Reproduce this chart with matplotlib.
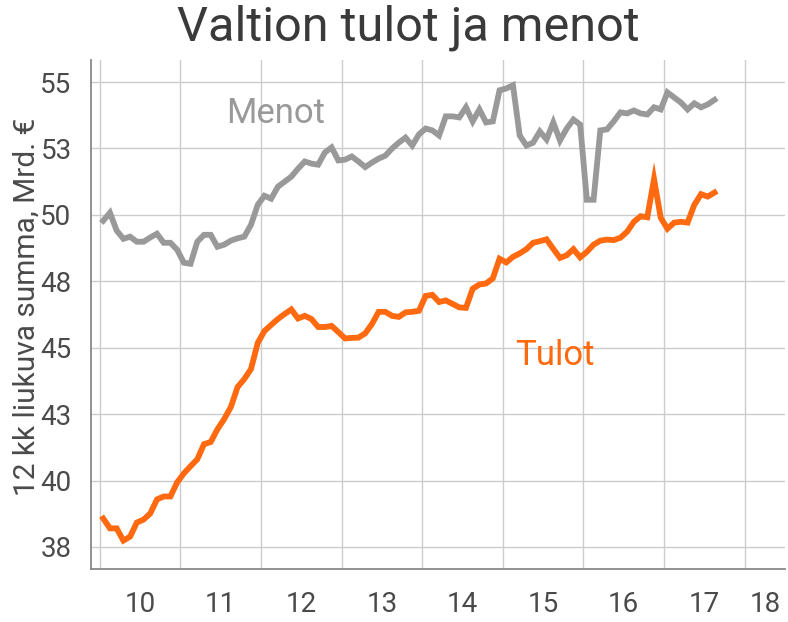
import numpy as np
import matplotlib
matplotlib.use("Agg")
import matplotlib.pyplot as plt
from matplotlib.ticker import FixedLocator, FuncFormatter, NullFormatter

plt.rcParams['font.family'] = ['Roboto', 'DejaVu Sans']

# kuukausittainen data, tammikuu 2010 - elokuu 2017 (12 kk liukuva summa, Mrd. €)
start_year = 2010
menot = [49.78, 50.08, 49.41, 49.10, 49.18, 48.99, 48.99, 49.15, 49.29, 48.95,
         48.95, 48.69, 48.20, 48.16, 48.99, 49.25, 49.25, 48.80, 48.88, 49.03,
         49.12, 49.18, 49.63, 50.38, 50.72, 50.61, 51.06, 51.25, 51.44, 51.74,
         52.01, 51.93, 51.89, 52.35, 52.54, 52.05, 52.08, 52.20, 52.01, 51.80,
         51.97, 52.12, 52.23, 52.50, 52.72, 52.91, 52.61, 53.03, 53.25, 53.18,
         52.99, 53.71, 53.71, 53.67, 54.05, 53.52, 53.97, 53.48, 53.52, 54.69,
         54.76, 54.88, 52.99, 52.61, 52.72, 53.14, 52.84, 53.48, 52.80, 53.25,
         53.59, 53.40, 50.57, 50.57, 53.18, 53.22, 53.52, 53.86, 53.82, 53.93,
         53.82, 53.78, 54.05, 53.97, 54.61, 54.42, 54.23, 53.97, 54.20, 54.05,
         54.16, 54.33]
tulot = [38.57, 38.20, 38.20, 37.74, 37.89, 38.42, 38.53, 38.76, 39.29, 39.40,
         39.40, 39.93, 40.27, 40.54, 40.80, 41.37, 41.45, 41.93, 42.31, 42.77,
         43.52, 43.82, 44.20, 45.18, 45.63, 45.86, 46.08, 46.27, 46.44, 46.10,
         46.20, 46.08, 45.78, 45.78, 45.82, 45.59, 45.35, 45.37, 45.38, 45.54,
         45.89, 46.35, 46.35, 46.20, 46.16, 46.33, 46.35, 46.39, 46.95, 46.99,
         46.72, 46.78, 46.65, 46.52, 46.50, 47.22, 47.38, 47.42, 47.61, 48.35,
         48.21, 48.42, 48.55, 48.71, 48.95, 49.01, 49.08, 48.72, 48.38, 48.48,
         48.71, 48.40, 48.61, 48.88, 49.03, 49.07, 49.05, 49.14, 49.37, 49.74,
         49.95, 49.91, 51.35, 49.89, 49.48, 49.71, 49.74, 49.71, 50.38, 50.78,
         50.69, 50.84]
years = list(range(2010, 2019))
year_labels = ['10', '11', '12', '13', '14', '15', '16', '17', '18']
y_ticks = [37.5, 40, 42.5, 45, 47.5, 50, 52.5, 55]

x = start_year + (np.arange(len(menot)) + 0.5) / 12.0

text_col = '#4a4a4a'
grey = '#999999'
orange = '#ff6a10'

fig = plt.figure(figsize=(7.88, 6.22), dpi=100)
ax = fig.add_axes([0.1155, 0.0852, 0.8807, 0.8183])

ax.plot(x, menot, color=grey, linewidth=4.2, solid_joinstyle='miter', zorder=3)
ax.plot(x, tulot, color=orange, linewidth=4.2, solid_joinstyle='miter', zorder=3)

xmin, xmax = 2009.89, 2018.5
ax.set_xlim(xmin, xmax)
ax.set_ylim(36.67, 55.83)

# vuosirajat gridiksi, vuosiluvut keskelle
ax.xaxis.set_major_locator(FixedLocator(years))
ax.xaxis.set_major_formatter(NullFormatter())
centers = [(max(y, xmin) + min(y + 1, xmax)) / 2 for y in years]
ax.set_xticks(centers, year_labels, minor=True)
ax.tick_params(axis='x', which='both', length=0, pad=16, labelsize=20, labelcolor=text_col)

ax.set_yticks(y_ticks)
ax.yaxis.set_major_formatter(FuncFormatter(lambda v, p: str(int(v + 0.5))))
ax.tick_params(axis='y', length=0, pad=14, labelsize=20, labelcolor=text_col)

ax.grid(True, which='major', color='#cccccc', linewidth=1.0)
ax.set_axisbelow(True)

for s in ['top', 'right']:
    ax.spines[s].set_visible(False)
for s in ['left', 'bottom']:
    ax.spines[s].set_color('#888888')
    ax.spines[s].set_linewidth(1.3)

ax.set_ylabel('12 kk liukuva summa, Mrd. €', fontsize=21.5, color=text_col)
ax.yaxis.set_label_coords(-0.072, 0.515)

ax.text(2012.18, 53.8, 'Menot', fontsize=25, color=grey, ha='center', va='center')
ax.text(2015.65, 44.7, 'Tulot', fontsize=25, color=orange, ha='center', va='center')

fig.text(0.518, 0.955, 'Valtion tulot ja menot', fontsize=35, color='#3a3a3a',
         ha='center', va='center')

fig.savefig('out.png', dpi=100)
